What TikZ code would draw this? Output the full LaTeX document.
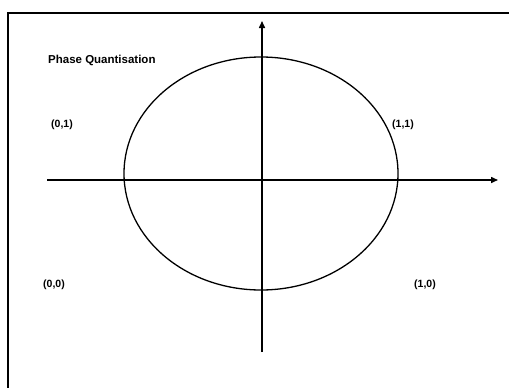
\documentclass[tikz,border=0pt]{standalone}
\usepackage{fontspec}
\setmainfont{Liberation Sans}
\usetikzlibrary{arrows.meta}
\begin{document}
\begin{tikzpicture}[x=1pt,y=-1pt,
  axis/.style={line width=1.5pt,-{Triangle[length=7pt,width=6pt]}},
  lbl/.style={font=\fontsize{10.5}{12}\selectfont\bfseries,inner sep=0pt},
  ttl/.style={font=\fontsize{11.5}{13}\selectfont\bfseries,inner sep=0pt,anchor=west}]
\useasboundingbox (0,0) rectangle (509,388);
\draw[line width=2pt] (8,390) -- (8,13) -- (520,13);
\coordinate (xs) at (47,180);
\coordinate (xe) at (498,180);
\coordinate (ys) at (262,352);
\coordinate (ye) at (262,21);
\draw[axis] (xs) -- (xe);
\draw[axis] (ys) -- (ye);
\draw[line width=1.3pt] (261,173.5) ellipse[x radius=137, y radius=116.5];
\node[ttl] (title) at (48,60) {Phase Quantisation};
\node[lbl] (l01) at (62,125) {(0,1)};
\node[lbl] (l11) at (403,125) {(1,1)};
\node[lbl] (l00) at (54,285) {(0,0)};
\node[lbl] (l10) at (425,285) {(1,0)};
\end{tikzpicture}
\end{document}
